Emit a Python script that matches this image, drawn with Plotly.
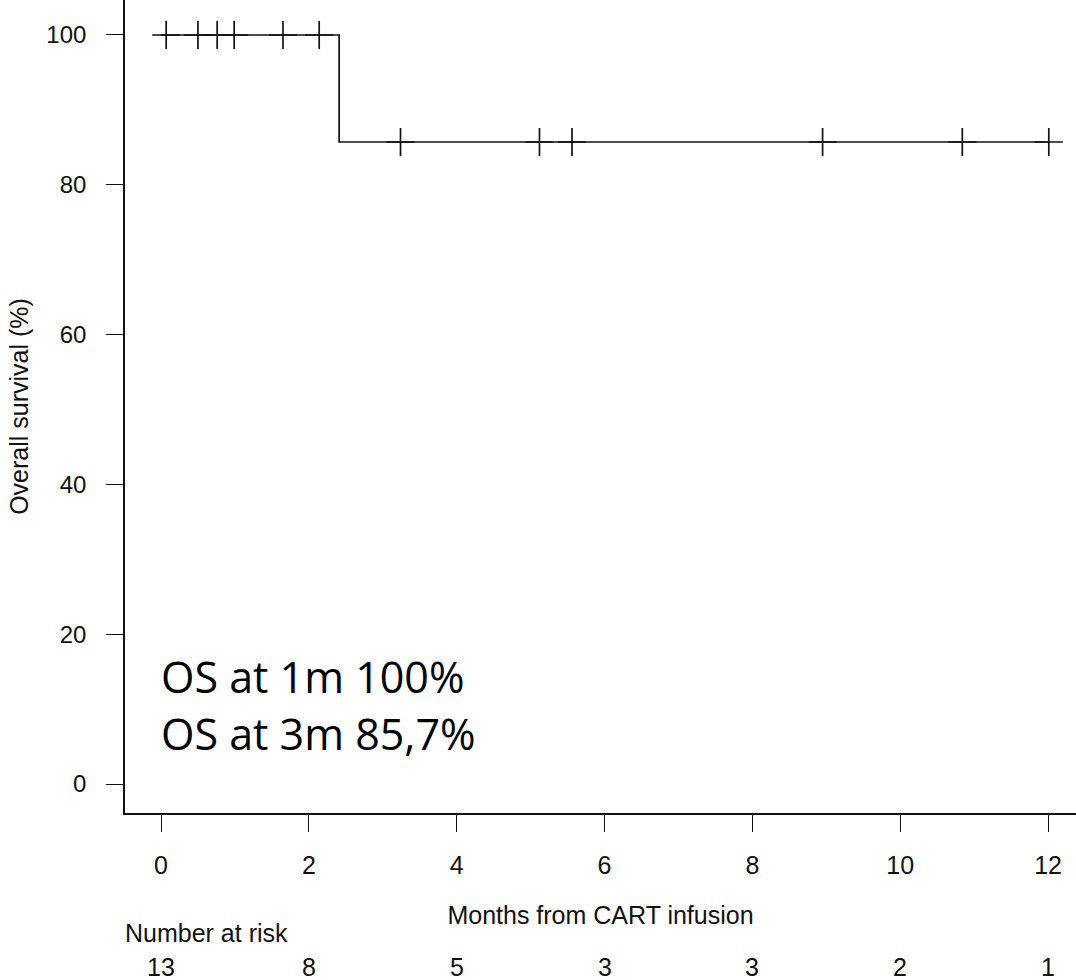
import plotly.graph_objects as go

# ---- data ----
times = [0.07, 0.50, 0.76, 0.99, 1.65, 2.14, 2.41, 3.24, 5.12, 5.56, 8.95, 10.84, 12.01]
events = [0, 0, 0, 0, 0, 0, 1, 0, 0, 0, 0, 0, 0]   # 1 = death, 0 = censored
risk_times = [0, 2, 4, 6, 8, 10, 12]
risk_counts = [13, 8, 5, 3, 3, 2, 1]
x_ticks = [0, 2, 4, 6, 8, 10, 12]
y_ticks = [0, 20, 40, 60, 80, 100]
os_notes = ["OS at 1m 100%", "OS at 3m 85,7%"]

# ---- Kaplan-Meier estimate ----
order = sorted(range(len(times)), key=lambda i: times[i])
n_at_risk = len(times)
s = 100.0
step_x, step_y = [0.0], [100.0]
cens_x, cens_y = [], []
for i in order:
    t, e = times[i], events[i]
    if e == 1:
        s = s * (n_at_risk - 1) / n_at_risk
        step_x.append(t)
        step_y.append(s)
    else:
        cens_x.append(t)
        cens_y.append(s)
    n_at_risk -= 1
step_x.append(max(times))
step_y.append(s)

INK = "#111111"
FONT = "Liberation Sans, Arial, sans-serif"

fig = go.Figure()
fig.add_trace(go.Scatter(x=step_x, y=step_y, mode="lines", line=dict(shape="hv", color=INK, width=1.7),
                         showlegend=False, hoverinfo="skip", cliponaxis=False))
fig.add_trace(go.Scatter(x=cens_x, y=cens_y, mode="markers",
                         marker=dict(symbol="cross-thin", size=20, line=dict(color=INK, width=1.7)),
                         showlegend=False, cliponaxis=False))

ann = []
ann.append(dict(text="Number at risk", xref="paper", yref="paper", x=-0.002, y=-0.1476,
                xanchor="left", yanchor="middle", showarrow=False,
                font=dict(family=FONT, size=25, color=INK)))
for t, c in zip(risk_times, risk_counts):
    ann.append(dict(text=str(c), xref="x", yref="paper", x=t, y=-0.190,
                    xanchor="center", yanchor="middle", showarrow=False,
                    font=dict(family=FONT, size=25, color=INK)))
for k, (txt, yv) in enumerate(zip(os_notes, [14.3, 6.8])):
    ann.append(dict(text=txt, xref="x", yref="y", x=-0.03, y=yv, xanchor="left", yanchor="middle",
                    showarrow=False, font=dict(family="Open Sans, Noto Sans, sans-serif", size=43, color="#000")))

fig.update_layout(
    width=1076, height=980,
    margin=dict(l=125, r=0, t=0, b=167),
    paper_bgcolor="white", plot_bgcolor="white",
    annotations=ann,
    font=dict(family=FONT, color=INK),
)
fig.update_xaxes(range=[-0.487, 12.378], tickvals=x_ticks, ticks="outside", ticklen=17, tickwidth=1.4,
                 tickcolor=INK, showline=True, linecolor=INK, linewidth=1.6, showgrid=False, zeroline=False,
                 tickfont=dict(family=FONT, size=25, color=INK), ticklabelstandoff=12,
                 title=dict(text="Months from CART infusion", font=dict(family=FONT, size=25, color=INK),
                            standoff=29))
fig.update_yaxes(range=[-3.87, 104.67], tickvals=y_ticks, ticks="outside", ticklen=17, tickwidth=1.4,
                 tickcolor=INK, showline=True, linecolor=INK, linewidth=1.6, showgrid=False, zeroline=False,
                 tickfont=dict(family=FONT, size=24, color=INK), ticklabelstandoff=15,
                 title=dict(text="Overall survival (%)", font=dict(family=FONT, size=25, color=INK),
                            standoff=11))

fig.write_html("out.html", config={"displayModeBar": False},
               post_script="document.body.style.margin='0';")
